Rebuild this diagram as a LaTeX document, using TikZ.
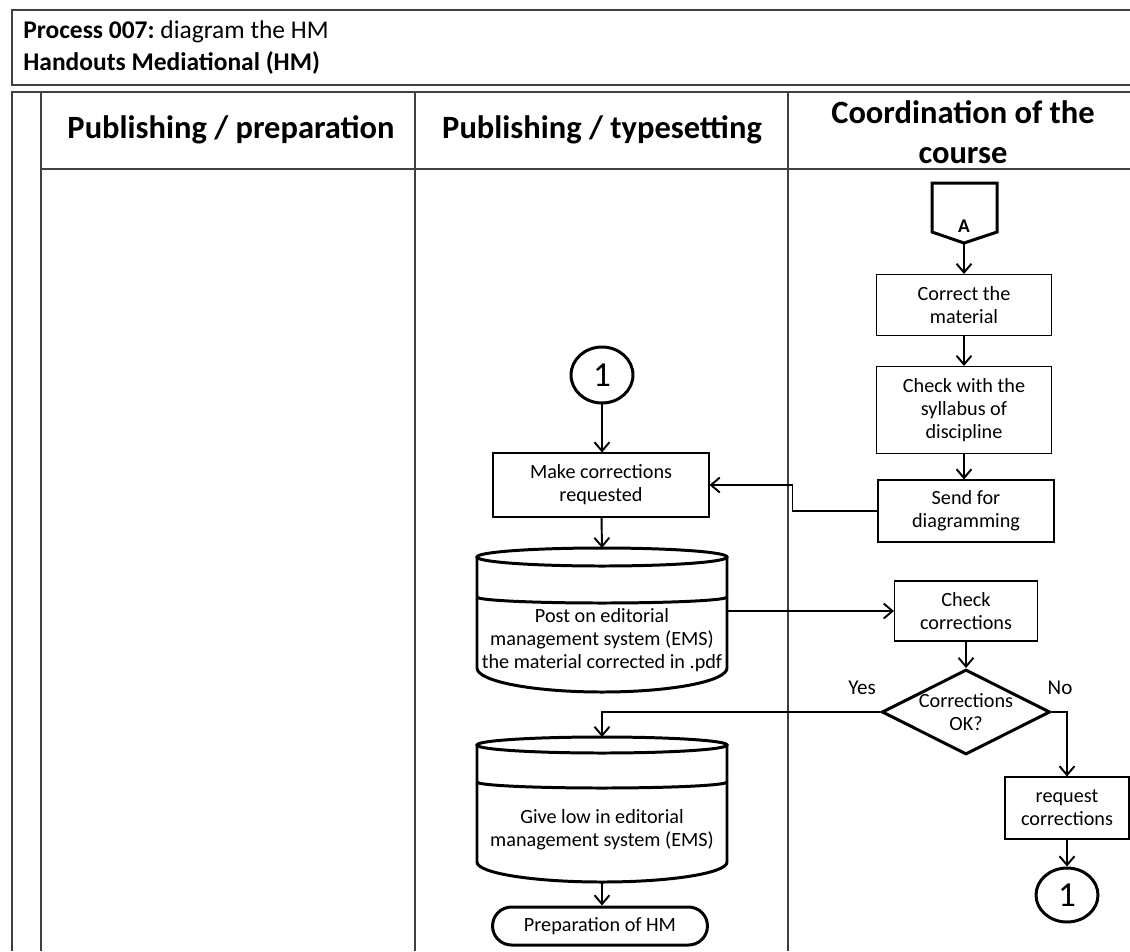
\documentclass[tikz,border=0pt]{standalone}
\usepackage{fontspec}
\setmainfont{Carlito}
\usetikzlibrary{shapes.geometric,arrows.meta}
\frenchspacing

\begin{document}
\begin{tikzpicture}[x=0.02cm,y=-0.02cm,
  lane/.style={line width=0.7pt,black!75},
  head/.style={font=\fontsize{18.5}{22.7}\selectfont\bfseries,align=center,inner sep=0pt},
  box/.style={draw,line width=0.6pt,align=center,inner sep=0pt,font=\fontsize{11.5}{13}\selectfont},
  txt/.style={align=center,inner sep=0pt,font=\fontsize{11.5}{13}\selectfont},
  heavy/.style={line width=1.7pt},
  arr/.style={line width=1.1pt,-{Straight Barb[length=5pt,width=8.5pt]}}]
\useasboundingbox (0,0) rectangle (1130,951);

% Title box
\draw[lane] (1130,10) -- (12,10) -- (12,85) -- (1130,85);
\node[anchor=west,inner sep=0pt,font=\fontsize{14.5}{16}\selectfont] (title) at (23,32) {\textbf{Process 007:} diagram the HM};
\node[anchor=west,inner sep=0pt,font=\fontsize{14.5}{16}\selectfont\bfseries] (subtitle) at (23,63) {Handouts Mediational (HM)};

% Swimlanes
\draw[lane] (12,951) -- (12,92) -- (1130,92);
\foreach \x in {41,415,788} {
    \draw[lane] (\x,92) -- (\x,951);
}
\draw[lane] (41,169) -- (1130,169);
\node[head] (lane1) at (231,130) {Publishing / preparation};
\node[head] (lane2) at (602,130) {Publishing / typesetting};
\node[head] (lane3) at (963,132) {Coordination of the\\course};

% Off-page connector A
\draw[heavy,line join=miter] (932,183) -- (997,183) -- (997,232) -- (964,243) -- (932,232) -- cycle;
\node[font=\fontsize{11}{12}\selectfont\bfseries] (conA) at (964,226) {A};
\coordinate (conAtip) at (964,243);

% Coordination of the course
\node[box,minimum width=3.5cm,minimum height=1.22cm] (correct) at (964,305) {Correct the\\material};
\node[box,minimum width=3.5cm,minimum height=1.74cm] (syllabus) at (964,410) {Check with the\\syllabus of\\discipline};
\node[box,minimum width=3.52cm,minimum height=1.24cm] (send) at (966,511) {Send for\\diagramming};
\node[box,minimum width=2.86cm,minimum height=1.2cm] (check) at (966,611) {Check\\corrections};
\node[box,heavy,diamond,aspect=2,minimum width=3.34cm,minimum height=1.7cm] (okq) at (966,712) {Corrections\\OK?};
\node[txt,font=\fontsize{12}{13}\selectfont] (yes) at (862,688) {Yes};
\node[txt,font=\fontsize{12}{13}\selectfont] (no) at (1060,688) {No};
\node[box,minimum width=2.48cm,minimum height=1.24cm] (request) at (1067,808) {request\\corrections};
\node[box,heavy,ellipse,minimum width=1.24cm,minimum height=1.08cm,font=\fontsize{20}{22}\selectfont] (link1b) at (1067,895) {1};

% Publishing / typesetting
\node[box,heavy,ellipse,minimum width=1.24cm,minimum height=1.12cm,font=\fontsize{20}{22}\selectfont] (link1a) at (602,375) {1};
\node[box,minimum width=4.32cm,minimum height=1.28cm] (make) at (601,485) {Make corrections\\requested};

% Database: post on EMS
\draw[heavy] (477,557) -- (477,668) arc[start angle=180,end angle=0,x radius=125,y radius=24] -- (727,557);
\draw[heavy] (602,557) ellipse[x radius=125,y radius=9];
\draw[heavy] (477,597) arc[start angle=180,end angle=0,x radius=125,y radius=6];
\node[txt] (post) at (602,640) {Post on editorial\\management system (EMS)\\the material corrected in .pdf};
\coordinate (postTop) at (602,548);
\coordinate (postR) at (727,611);

% Database: give low in EMS
\draw[heavy] (477,745) -- (477,862) arc[start angle=180,end angle=0,x radius=125,y radius=20] -- (727,745);
\draw[heavy] (602,745) ellipse[x radius=125,y radius=8];
\draw[heavy] (477,782) arc[start angle=180,end angle=0,x radius=125,y radius=6];
\node[txt] (give) at (602,830) {Give low in editorial\\management system (EMS)};
\coordinate (giveTop) at (602,737);
\coordinate (giveBot) at (602,882);

\node[box,heavy,rounded corners=0.38cm,minimum width=4.3cm,minimum height=0.76cm] (prep) at (600,926) {Preparation of HM};

% Flow
\draw[arr] (conAtip) -- (correct);
\draw[arr] (correct) -- (syllabus);
\draw[arr] (syllabus) -- (syllabus |- send.north);
\draw[arr] (send.west) -- ++(-85,0) |- (make.east);
\draw[arr] (link1a) -- (link1a |- make.north);
\draw[arr] (make) -- (postTop);
\draw[arr] (postR) -- (check.west);
\draw[arr] (check) -- (okq);
\draw[arr] (okq.west) -| (giveTop);
\draw[arr] (okq.east) -| (request.north);
\draw[arr] (request) -- (link1b);
\draw[arr] (giveBot) -- (giveBot |- prep.north);
\end{tikzpicture}
\end{document}
